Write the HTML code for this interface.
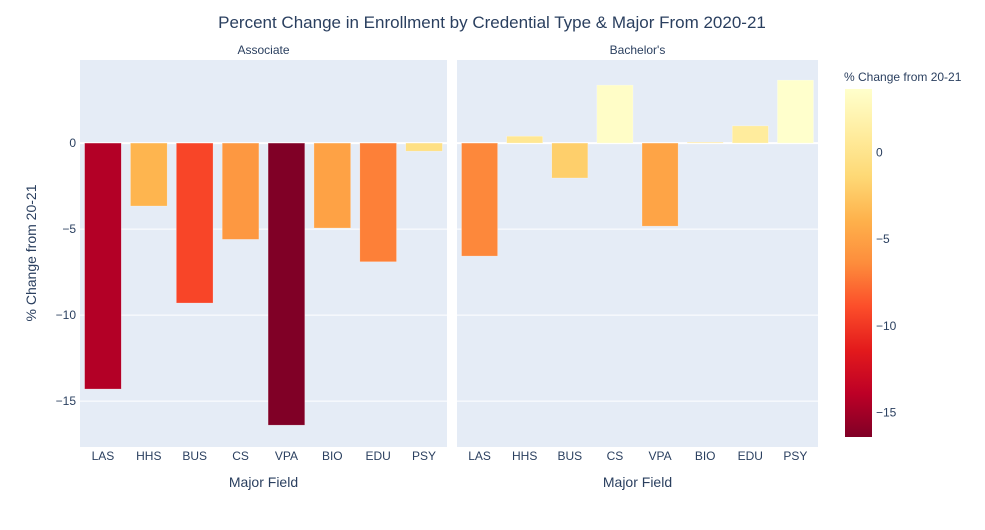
<!DOCTYPE html>
<html><head><meta charset="utf-8"><style>
body{margin:0;background:#fff;font-family:"Liberation Sans",Arial,sans-serif}
svg text{font-family:"Liberation Sans",Arial,sans-serif;fill:#2a3f5f}
</style></head><body>
<svg id="chart" width="985" height="525" xmlns="http://www.w3.org/2000/svg">
<text x="492" y="28" font-size="17" text-anchor="middle">Percent Change in Enrollment by Credential Type &amp; Major From 2020-21</text>
<g id="g"></g>
</svg>
<script>
const categories=["LAS","HHS","BUS","CS","VPA","BIO","EDU","PSY"];
const associateValues=[-14.3,-3.66,-9.3,-5.6,-16.4,-4.94,-6.9,-0.47];
const bachelorValues=[-6.57,0.4,-2.03,3.37,-4.83,0.05,1.0,3.66];
const yTicks=[0,-5,-10,-15];
const cbTicks=[0,-5,-10,-15];
const panelTitles=["Associate","Bachelor's"];
const NS="http://www.w3.org/2000/svg";
const g=document.getElementById('g');
function el(t,a,p){const e=document.createElementNS(NS,t);for(const k in a)e.setAttribute(k,a[k]);(p||g).appendChild(e);return e;}
const all=associateValues.concat(bachelorValues);
const cmin=Math.min(...all),cmax=Math.max(...all);
const yMin=-17.67,yMax=4.83,plotTop=60,plotBot=447;
const y=v=>plotTop+(yMax-v)/(yMax-yMin)*(plotBot-plotTop);
const scale=[[0,[128,0,38]],[0.125,[189,0,38]],[0.25,[227,26,28]],[0.375,[252,78,42]],[0.5,[253,141,60]],[0.625,[254,178,76]],[0.75,[254,217,118]],[0.875,[255,237,160]],[1,[255,255,204]]];
function color(v){let t=(v-cmin)/(cmax-cmin);t=Math.max(0,Math.min(1,t));for(let i=1;i<scale.length;i++){if(t<=scale[i][0]){const a=scale[i-1],b=scale[i],f=(t-a[0])/(b[0]-a[0]);return 'rgb('+a[1].map((c,j)=>Math.round(c+f*(b[1][j]-c))).join(',')+')';}}return 'rgb(255,255,204)';}
const panels=[{x0:80,x1:447,vals:associateValues},{x0:457,x1:818,vals:bachelorValues}];
panels.forEach((p,pi)=>{
  const r=el('rect',{x:p.x0,y:plotTop,width:p.x1-p.x0,height:plotBot-plotTop,fill:'#e5ecf6'});
  
  
  yTicks.forEach(t=>{const l=el('line',{x1:p.x0,x2:p.x1,y1:y(t),y2:y(t),stroke:'#fff','stroke-width':t===0?2:1});
    
    });
  const st=el('text',{x:(p.x0+p.x1)/2,y:54,'font-size':12,'text-anchor':'middle'});st.textContent=panelTitles[pi];
  
  
  const bw=(p.x1-p.x0)/categories.length;
  categories.forEach((c,i)=>{
    const v=p.vals[i],cx=p.x0+bw*(i+0.5),w=bw*0.8;
    const b=el('rect',{x:cx-w/2,y:Math.min(y(v),y(0)),width:w,height:Math.abs(y(v)-y(0)),fill:color(v),stroke:'rgba(255,255,255,0.5)','stroke-width':0.5});
    
    
    const tl=el('text',{x:cx,y:460,'font-size':12,'text-anchor':'middle'});tl.textContent=c;
    
    
  });
  const xt=el('text',{x:(p.x0+p.x1)/2,y:487,'font-size':14,'text-anchor':'middle'});xt.textContent='Major Field';
  
  
});
yTicks.forEach(t=>{const e=el('text',{x:76,y:y(t)+4,'font-size':12,'text-anchor':'end'});e.textContent=t<0?'−'+(-t):t;
  
  });
const yt=el('text',{x:36,y:253,'font-size':14,'text-anchor':'middle',transform:'rotate(-90 36 253)'});yt.textContent='% Change from 20-21';


const cbTop=89,cbBot=437,cbX=845,cbW=27;
const defs=el('defs',{});const lg=el('linearGradient',{id:'cbg',x1:0,y1:1,x2:0,y2:0},defs);
scale.forEach(s=>el('stop',{offset:s[0],'stop-color':'rgb('+s[1].join(',')+')'},lg));
const cb=el('rect',{x:cbX,y:cbTop,width:cbW,height:cbBot-cbTop,fill:'url(#cbg)'});


const cy=v=>cbTop+(cmax-v)/(cmax-cmin)*(cbBot-cbTop);
cbTicks.forEach(t=>{const e=el('text',{x:876,y:cy(t)+4,'font-size':12});e.textContent=t<0?'−'+(-t):t;
  
  });
const ct=el('text',{x:844,y:81,'font-size':12});ct.textContent='% Change from 20-21';


</script>
</body></html>
